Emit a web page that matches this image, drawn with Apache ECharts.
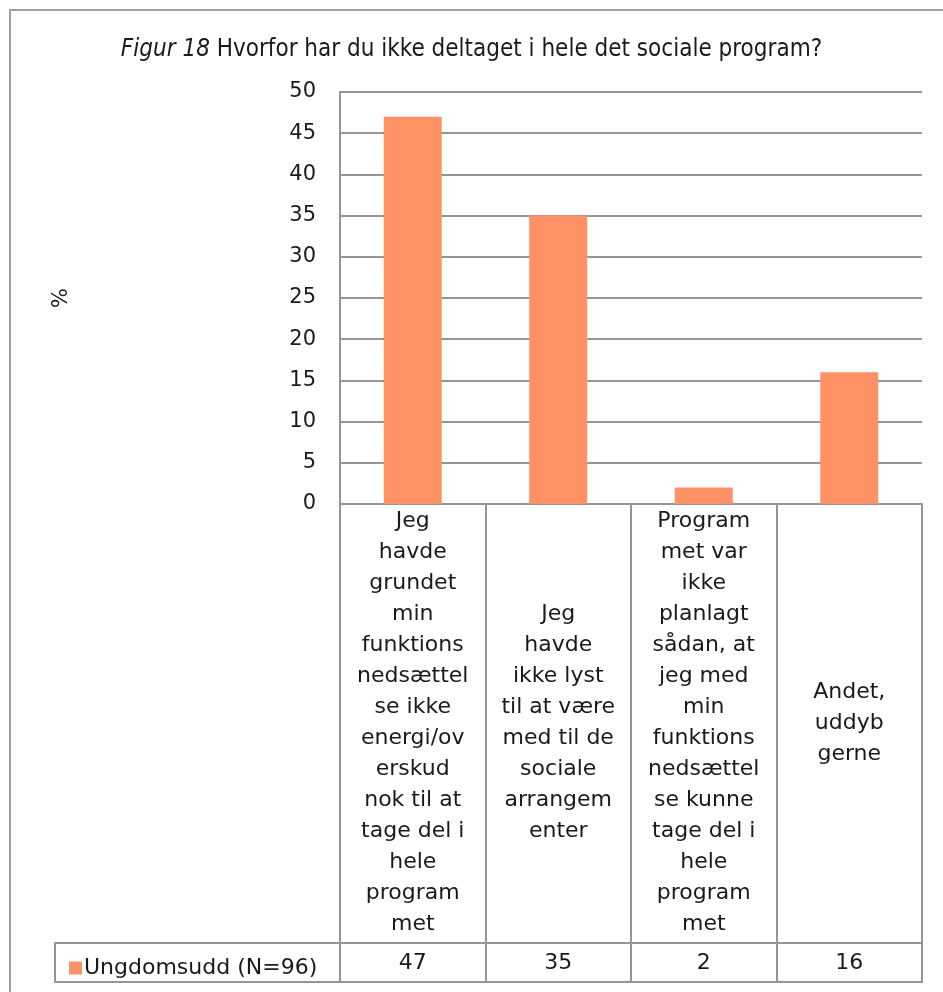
<!DOCTYPE html>
<html>
<head>
<meta charset="utf-8">
<script src="https://cdn.jsdelivr.net/npm/echarts@6/dist/echarts.min.js"></script>
<style>
  html, body { margin: 0; padding: 0; background: #fff; }
  #chart { width: 943px; height: 992px; }
</style>
</head>
<body>
<div id="chart"></div>
<script>
// kategorier (ombrudt som i Excel-tabellen)
var categories = [
    'Jeg\nhavde\ngrundet\nmin\nfunktions\nnedsættel\nse ikke\nenergi/ov\nerskud\nnok til at\ntage del i\nhele\nprogram\nmet',
    'Jeg\nhavde\nikke lyst\ntil at være\nmed til de\nsociale\narrangem\nenter',
    'Program\nmet var\nikke\nplanlagt\nsådan, at\njeg med\nmin\nfunktions\nnedsættel\nse kunne\ntage del i\nhele\nprogram\nmet',
    'Andet,\nuddyb\ngerne'
];
var seriesName = 'Ungdomsudd (N=96)';
var values = [47, 35, 2, 16];
var yTicks = [0, 50, 5]; // min, max, interval

var font = '"DejaVu Sans", sans-serif';
var titleFont = '"DejaVu Sans Condensed", "DejaVu Sans", sans-serif';
var gridColor = '#969696';
var barColor = '#FF9264';
var txt = '#1a1a1a';

var chart = echarts.init(document.getElementById('chart'));

var options = {
    backgroundColor: '#fff',
    textStyle: { fontFamily: font },
    title: {
        text: '{i|Figur 18} Hvorfor har du ikke deltaget i hele det sociale program?',
        left: 'center',
        top: 33,
        textStyle: {
            fontFamily: titleFont,
            fontWeight: 'normal',
            fontSize: 24,
            color: txt,
            rich: {
                i: { fontStyle: 'italic', fontSize: 24, fontFamily: titleFont, color: txt }
            }
        }
    },
    legend: {
        data: [seriesName],
        left: 64,
        top: 952,
        icon: 'rect',
        itemWidth: 13,
        itemHeight: 13,
        itemGap: 0,
        textStyle: { fontSize: 22, color: txt, fontFamily: font, padding: [0, 0, 0, -3] }
    },
    grid: {
        left: 340,
        right: 21,
        top: 92,
        bottom: 488,
        containLabel: false
    },
    xAxis: [
        {
            type: 'category',
            data: categories,
            position: 'bottom',
            axisLine: { show: true, lineStyle: { color: gridColor, width: 2 } },
            axisTick: { show: true, length: 478, lineStyle: { color: gridColor, width: 2 } },
            axisLabel: {
                interval: 0,
                margin: 219,
                verticalAlign: 'middle',
                align: 'center',
                fontSize: 22,
                lineHeight: 31,
                color: txt,
                fontFamily: font
            }
        },
        {
            type: 'category',
            data: values.map(String),
            position: 'bottom',
            axisLine: { show: false },
            axisTick: { show: false },
            axisLabel: {
                interval: 0,
                margin: 459,
                verticalAlign: 'middle',
                fontSize: 22,
                color: txt,
                fontFamily: font
            }
        }
    ],
    yAxis: {
        type: 'value',
        min: yTicks[0],
        max: yTicks[1],
        interval: yTicks[2],
        name: '%',
        nameLocation: 'middle',
        nameGap: 268,
        nameRotate: 90,
        nameTextStyle: { fontSize: 21, color: txt, fontFamily: font },
        axisLine: { show: true, lineStyle: { color: gridColor, width: 2 } },
        axisTick: { show: false },
        axisLabel: { margin: 24, fontSize: 21, color: txt, fontFamily: font },
        splitLine: { lineStyle: { color: gridColor, width: 2 } }
    },
    series: [
        {
            name: seriesName,
            type: 'bar',
            xAxisIndex: 0,
            barWidth: 58,
            itemStyle: { color: barColor },
            data: values
        }
    ],
    graphic: [
        // ydre ramme
        {
            type: 'rect',
            shape: { x: 10, y: 10, width: 1000, height: 1000 },
            style: { fill: 'none', stroke: '#a0a0a0', lineWidth: 2 },
            silent: true
        },
        // datatabel-række
        {
            type: 'rect',
            shape: { x: 55, y: 943, width: 867, height: 39 },
            style: { fill: 'none', stroke: gridColor, lineWidth: 2 },
            silent: true
        }
    ]
};

chart.setOption(options);
</script>
</body>
</html>
